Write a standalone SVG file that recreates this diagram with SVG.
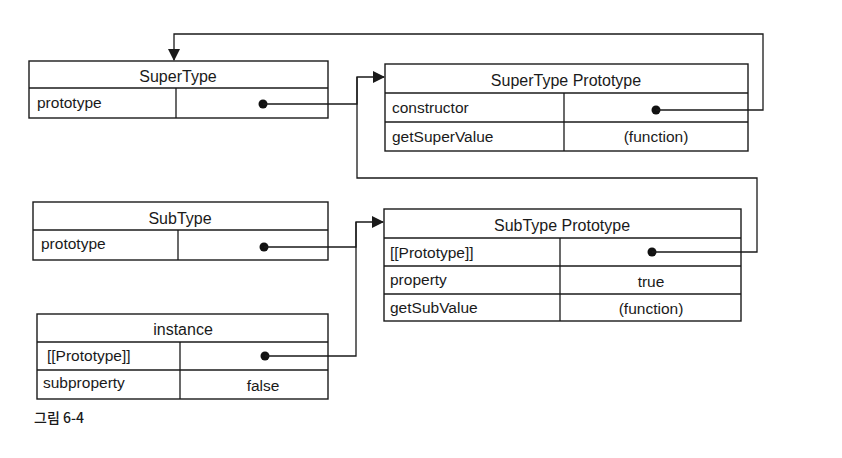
<svg xmlns="http://www.w3.org/2000/svg" width="842" height="458" viewBox="0 0 842 458">
<defs>
<marker id="arr" markerUnits="userSpaceOnUse" markerWidth="12" markerHeight="12" refX="11" refY="6" orient="auto">
<path d="M0,0 L12,6 L0,12 z" fill="#1a1a1a"/>
</marker>
<style>
.box{fill:#fff;stroke:#1a1a1a;stroke-width:1.4}
.ln{stroke:#1a1a1a;stroke-width:1.3;fill:none}
.t{font-family:"Liberation Sans",Arial,sans-serif;font-size:15.5px;fill:#1a1a1a}
.h{font-family:"Liberation Sans",Arial,sans-serif;font-size:16px;fill:#1a1a1a;text-anchor:middle}
.c{text-anchor:middle}
.dot{fill:#111}
.cap{font-family:"Noto Sans CJK KR","Liberation Sans",sans-serif;font-size:14px;font-weight:500;fill:#1a1a1a}
</style>
</defs>
<rect width="842" height="458" fill="#fff"/>
<g id="supertype">
<rect class="box" x="29" y="61" width="299" height="57"/>
<line class="ln" x1="29" y1="88" x2="328" y2="88"/>
<line class="ln" x1="176" y1="88" x2="176" y2="118"/>
<text class="h" x="178" y="82">SuperType</text>
<text class="t" x="37" y="108">prototype</text>
<circle class="dot" cx="263" cy="104" r="4.5"/>
</g>
<g id="supertype-prototype">
<rect class="box" x="385" y="64" width="363" height="87"/>
<line class="ln" x1="385" y1="93" x2="748" y2="93"/>
<line class="ln" x1="385" y1="122" x2="748" y2="122"/>
<line class="ln" x1="564" y1="93" x2="564" y2="151"/>
<text class="h" x="566" y="86">SuperType Prototype</text>
<text class="t" x="392" y="113">constructor</text>
<text class="t" x="392" y="142">getSuperValue</text>
<text class="t c" x="656" y="142">(function)</text>
<circle class="dot" cx="656" cy="110" r="4.5"/>
</g>
<g id="subtype">
<rect class="box" x="33" y="202" width="295" height="58"/>
<line class="ln" x1="33" y1="230" x2="328" y2="230"/>
<line class="ln" x1="178" y1="230" x2="178" y2="260"/>
<text class="h" x="180" y="224">SubType</text>
<text class="t" x="41" y="249">prototype</text>
<circle class="dot" cx="264" cy="247" r="4.5"/>
</g>
<g id="subtype-prototype">
<rect class="box" x="384" y="209" width="357" height="112"/>
<line class="ln" x1="384" y1="238" x2="741" y2="238"/>
<line class="ln" x1="384" y1="266" x2="741" y2="266"/>
<line class="ln" x1="384" y1="294" x2="741" y2="294"/>
<line class="ln" x1="560" y1="238" x2="560" y2="321"/>
<text class="h" x="562" y="231">SubType Prototype</text>
<text class="t" x="390" y="258">[[Prototype]]</text>
<text class="t" x="390" y="285">property</text>
<text class="t" x="390" y="313">getSubValue</text>
<text class="t c" x="651" y="287">true</text>
<text class="t c" x="651" y="314">(function)</text>
<circle class="dot" cx="652" cy="252" r="4.5"/>
</g>
<g id="instance">
<rect class="box" x="37" y="314" width="291" height="85"/>
<line class="ln" x1="37" y1="342" x2="328" y2="342"/>
<line class="ln" x1="37" y1="370" x2="328" y2="370"/>
<line class="ln" x1="180" y1="342" x2="180" y2="399"/>
<text class="h" x="183" y="335">instance</text>
<text class="t" x="47" y="361">[[Prototype]]</text>
<text class="t" x="43" y="388">subproperty</text>
<text class="t c" x="263" y="391">false</text>
<circle class="dot" cx="265" cy="356" r="4.5"/>
</g>
<g id="connectors">
<path class="ln" d="M263,104 H357 V77 H384" marker-end="url(#arr)"/>
<path class="ln" d="M652,252 H757 V178 H357 V77"/>
<path class="ln" d="M656,110 H763 V34 H174 V60" marker-end="url(#arr)"/>
<path class="ln" d="M264,247 H356 V222 H383" marker-end="url(#arr)"/>
<path class="ln" d="M265,356 H356 V222"/>
</g>
<text class="cap" x="34" y="423">그림 6-4</text>
</svg>
